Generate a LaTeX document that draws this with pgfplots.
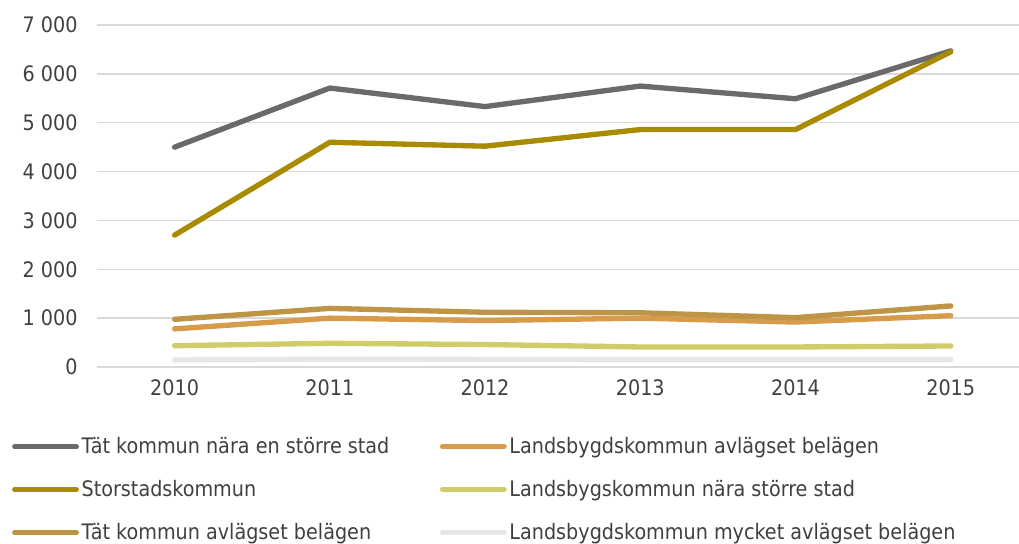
\documentclass[border=0pt]{standalone}
\usepackage{pgfplots}
\pgfplotsset{compat=1.18}
\usepackage{fontspec}
\setmainfont{DejaVu Sans Condensed}
\definecolor{cgray}{HTML}{6A6A6A}
\definecolor{colive}{HTML}{A88B00}
\definecolor{ctan}{HTML}{BE9447}
\definecolor{corange}{HTML}{D69B4B}
\definecolor{cyellow}{HTML}{CFCC6A}
\definecolor{clight}{HTML}{E6E6E6}
\definecolor{ctext}{HTML}{404040}
\definecolor{cgrid}{HTML}{D9D9D9}
\begin{document}
\begin{tikzpicture}
\path[use as bounding box] (-72.75pt,-132pt) rectangle (691.5pt,275.25pt);
\begin{axis}[
  at={(0,0)}, anchor=south west,
  scale only axis, width=691.5pt, height=256.5pt,
  xmin=-0.5, xmax=5.44, ymin=0, ymax=7000,
  xtick={0,1,2,3,4,5}, xticklabels={2010,2011,2012,2013,2014,2015},
  ytick={0,1000,...,7000},
  yticklabels={0,1\ 000,2\ 000,3\ 000,4\ 000,5\ 000,6\ 000,7\ 000},
  ymajorgrids, major grid style={draw=cgrid, line width=1.1pt},
  axis line style={draw=none}, major tick style={draw=none},
  tick label style={font=\fontsize{16}{19}\selectfont, text=ctext},
  xticklabel style={yshift=-6pt},
  yticklabel style={xshift=-11pt},
  clip=false,
  every axis plot/.append style={line width=4pt, line cap=round, line join=round},
  legend columns=2,
  legend cell align=left,
  legend image code/.code={\draw[#1] (0pt,0pt) -- (38pt,0pt); \path (0pt,0pt) -- (46pt,0pt);},
  legend style={at={(axis description cs:-0.0965,-0.19)}, anchor=north west,
    draw=none, fill=none, font=\fontsize{16}{19}\selectfont, text=ctext,
    row sep=14.5pt,
    /tikz/every even column/.append style={column sep=36pt}},
]
\addplot[cgray] coordinates {(0,4500) (1,5710) (2,5330) (3,5750) (4,5490) (5,6470)};
\addlegendentry{Tät kommun nära en större stad}
\addplot[corange] coordinates {(0,780) (1,1000) (2,950) (3,1000) (4,920) (5,1050)};
\addlegendentry{Landsbygdskommun avlägset belägen}
\addplot[colive] coordinates {(0,2700) (1,4600) (2,4520) (3,4860) (4,4860) (5,6450)};
\addlegendentry{Storstadskommun}
\addplot[cyellow] coordinates {(0,436) (1,485) (2,460) (3,410) (4,410) (5,430)};
\addlegendentry{Landsbygskommun nära större stad}
\addplot[ctan] coordinates {(0,976) (1,1200) (2,1120) (3,1110) (4,1010) (5,1250)};
\addlegendentry{Tät kommun avlägset belägen}
\addplot[clight] coordinates {(0,143) (1,160) (2,155) (3,150) (4,148) (5,150)};
\addlegendentry{Landsbygdskommun mycket avlägset belägen}
\end{axis}
\end{tikzpicture}
\end{document}
